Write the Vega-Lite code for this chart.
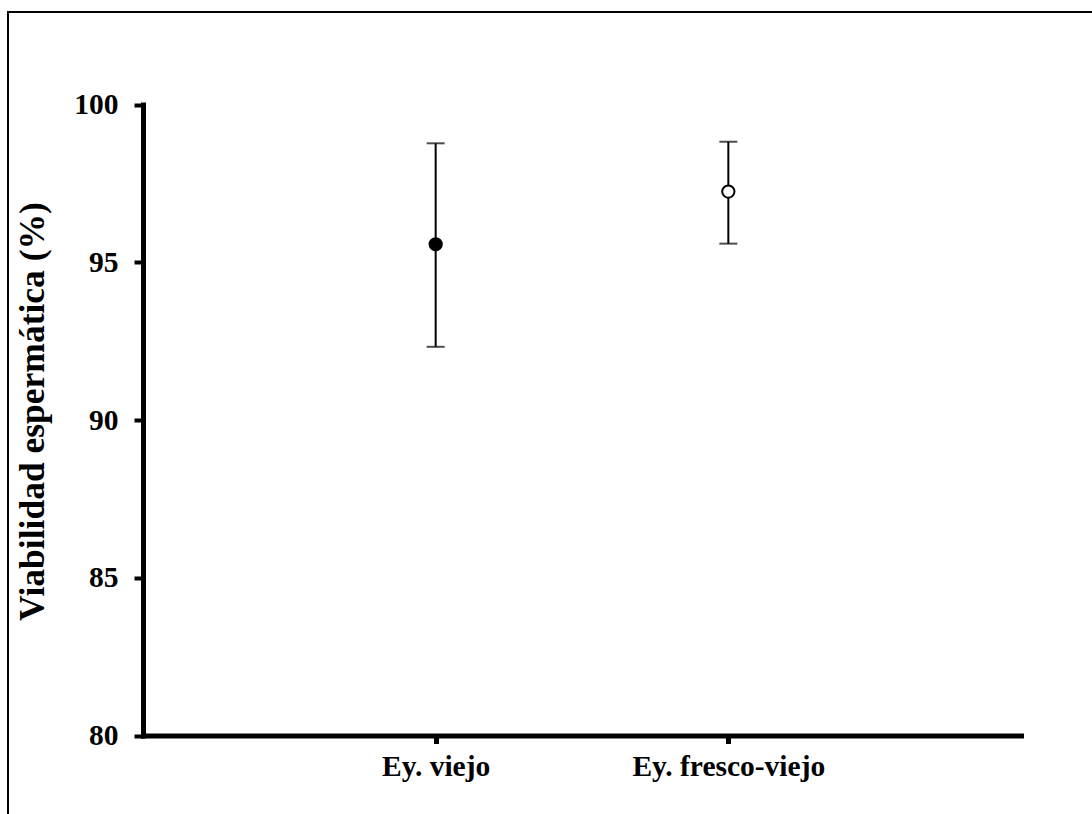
{
  "$schema": "https://vega.github.io/schema/vega-lite/v6.json",
  "width": 1087,
  "height": 805,
  "autosize": {"type": "none"},
  "padding": {"left": 8, "top": 12, "right": -3, "bottom": -3},
  "background": "white",
  "config": {
    "view": {"stroke": "black", "strokeWidth": 2},
    "font": "Liberation Serif"
  },
  "data": {
    "values": [
      {"grupo": "Ey. viejo", "media": 95.57, "inf": 92.32, "sup": 98.77},
      {"grupo": "Ey. fresco-viejo", "media": 97.24, "inf": 95.59, "sup": 98.82}
    ]
  },
  "encoding": {
    "x": {
      "field": "grupo",
      "type": "nominal",
      "sort": null,
      "scale": {"type": "point", "range": [135, 1013], "padding": 1},
      "axis": {
        "orient": "bottom",
        "offset": -81.5,
        "title": null,
        "labelAngle": 0,
        "labelLimit": 0,
        "labelFontSize": 29.5,
        "labelFontWeight": "bold",
        "labelColor": "black",
        "labelPadding": 9,
        "tickSize": 8,
        "tickWidth": 5,
        "tickColor": "black",
        "domainWidth": 5,
        "domainColor": "black",
        "domainCap": "square",
        "grid": false
      }
    }
  },
  "layer": [
    {
      "mark": {"type": "rule", "color": "black", "strokeWidth": 2},
      "encoding": {
        "y": {
          "field": "inf",
          "type": "quantitative",
          "scale": {"domain": [80, 100], "range": [723.5, 92.5], "nice": false, "zero": false},
          "axis": {
            "orient": "left",
            "offset": -135,
            "values": [80, 85, 90, 95, 100],
            "grid": false,
            "labelFontSize": 29.5,
            "labelFontWeight": "bold",
            "labelColor": "black",
            "labelPadding": 16,
            "tickSize": 9,
            "tickWidth": 4,
            "tickColor": "black",
            "domainWidth": 5,
            "domainColor": "black",
            "domainCap": "square",
            "title": "Viabilidad espermática (%)",
            "titleFontSize": 35.5,
            "titleFontWeight": "bold",
            "titleColor": "black",
            "titleAngle": -90,
            "titleX": -111,
            "titleY": 399,
            "titleAlign": "center",
            "titleBaseline": "middle"
          }
        },
        "y2": {"field": "sup"}
      }
    },
    {
      "mark": {"type": "tick", "color": "black", "thickness": 2, "size": 18},
      "encoding": {"y": {"field": "inf", "type": "quantitative"}}
    },
    {
      "mark": {"type": "tick", "color": "black", "thickness": 2, "size": 18},
      "encoding": {"y": {"field": "sup", "type": "quantitative"}}
    },
    {
      "mark": {"type": "point", "shape": "circle", "size": 150, "stroke": "black", "strokeWidth": 2, "opacity": 1},
      "encoding": {
        "y": {"field": "media", "type": "quantitative"},
        "fill": {
          "field": "grupo",
          "type": "nominal",
          "scale": {"domain": ["Ey. viejo", "Ey. fresco-viejo"], "range": ["black", "white"]},
          "legend": null
        }
      }
    }
  ]
}
